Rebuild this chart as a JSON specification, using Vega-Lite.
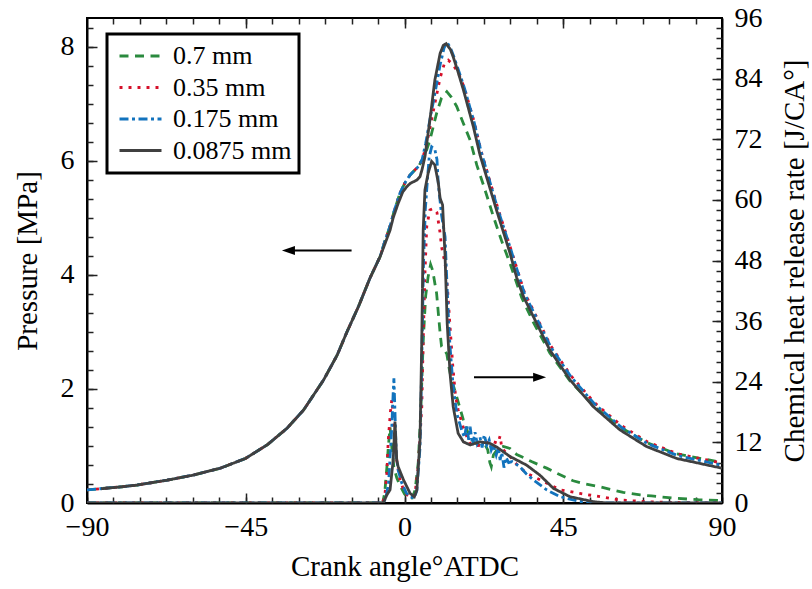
{
  "$schema": "https://vega.github.io/schema/vega-lite/v6.json",
  "width": 635,
  "height": 485,
  "autosize": {"type": "none"},
  "padding": {"left": 87, "top": 18, "right": 90, "bottom": 86},
  "background": "white",
  "config": {
    "view": {"stroke": "black", "strokeWidth": 2},
    "font": "Liberation Serif",
    "axis": {
      "labelFont": "Liberation Serif", "titleFont": "Liberation Serif",
      "labelFontSize": 28, "titleFontSize": 29, "titleFontWeight": "normal",
      "labelColor": "black", "titleColor": "black",
      "domainColor": "black", "domainWidth": 2,
      "tickColor": "#222222", "tickWidth": 1.5, "grid": false, "labelFlush": false
    },
    "legend": {
      "labelFont": "Liberation Serif", "labelColor": "black",
      "strokeColor": "black", "strokeWidth": 3, "fillColor": "white", "labelLimit": 400
    }
  },
  "datasets": {
    "arrows": [
      {"dir": "left", "x1": -32.9, "x2": -15.0, "y": 4.425},
      {"dir": "right", "x1": 38.3, "x2": 19.7, "y": 2.203}
    ],
    "curves": [
      {"kind":"P","series":"0.7 mm","angle":-90,"value":0.23},
      {"kind":"P","series":"0.7 mm","angle":-80,"value":0.285},
      {"kind":"P","series":"0.7 mm","angle":-75.8,"value":0.315},
      {"kind":"P","series":"0.7 mm","angle":-67.3,"value":0.40},
      {"kind":"P","series":"0.7 mm","angle":-59.8,"value":0.49},
      {"kind":"P","series":"0.7 mm","angle":-52.2,"value":0.61},
      {"kind":"P","series":"0.7 mm","angle":-45.1,"value":0.78},
      {"kind":"P","series":"0.7 mm","angle":-38.9,"value":1.02},
      {"kind":"P","series":"0.7 mm","angle":-33.3,"value":1.31},
      {"kind":"P","series":"0.7 mm","angle":-28.6,"value":1.63},
      {"kind":"P","series":"0.7 mm","angle":-22.9,"value":2.16},
      {"kind":"P","series":"0.7 mm","angle":-19.1,"value":2.59},
      {"kind":"P","series":"0.7 mm","angle":-16.3,"value":3.0},
      {"kind":"P","series":"0.7 mm","angle":-13,"value":3.45},
      {"kind":"P","series":"0.7 mm","angle":-9.8,"value":3.94},
      {"kind":"P","series":"0.7 mm","angle":-6.9,"value":4.32},
      {"kind":"P","series":"0.7 mm","angle":-5.5,"value":4.6},
      {"kind":"P","series":"0.7 mm","angle":-4.1,"value":4.85},
      {"kind":"P","series":"0.7 mm","angle":-3.0,"value":5.1},
      {"kind":"P","series":"0.7 mm","angle":-1.3,"value":5.43},
      {"kind":"P","series":"0.7 mm","angle":0.2,"value":5.62},
      {"kind":"P","series":"0.7 mm","angle":1.6,"value":5.75},
      {"kind":"P","series":"0.7 mm","angle":3.0,"value":5.84},
      {"kind":"P","series":"0.7 mm","angle":3.9,"value":5.89},
      {"kind":"P","series":"0.7 mm","angle":4.9,"value":6.0},
      {"kind":"P","series":"0.7 mm","angle":5.8,"value":6.1},
      {"kind":"P","series":"0.7 mm","angle":7.2,"value":6.36},
      {"kind":"P","series":"0.7 mm","angle":9.1,"value":6.83},
      {"kind":"P","series":"0.7 mm","angle":10.5,"value":7.1},
      {"kind":"P","series":"0.7 mm","angle":12.0,"value":7.21},
      {"kind":"P","series":"0.7 mm","angle":13.2,"value":7.12},
      {"kind":"P","series":"0.7 mm","angle":14.8,"value":6.95},
      {"kind":"P","series":"0.7 mm","angle":16.7,"value":6.65},
      {"kind":"P","series":"0.7 mm","angle":18.6,"value":6.36},
      {"kind":"P","series":"0.7 mm","angle":20.5,"value":5.92},
      {"kind":"P","series":"0.7 mm","angle":22.5,"value":5.55},
      {"kind":"P","series":"0.7 mm","angle":25.2,"value":5.02},
      {"kind":"P","series":"0.7 mm","angle":27.5,"value":4.6},
      {"kind":"P","series":"0.7 mm","angle":29.9,"value":4.2},
      {"kind":"P","series":"0.7 mm","angle":33.2,"value":3.6},
      {"kind":"P","series":"0.7 mm","angle":36.5,"value":3.17},
      {"kind":"P","series":"0.7 mm","angle":41.2,"value":2.63},
      {"kind":"P","series":"0.7 mm","angle":46.9,"value":2.14},
      {"kind":"P","series":"0.7 mm","angle":53.5,"value":1.71},
      {"kind":"P","series":"0.7 mm","angle":61.1,"value":1.33},
      {"kind":"P","series":"0.7 mm","angle":68.6,"value":1.06},
      {"kind":"P","series":"0.7 mm","angle":77.2,"value":0.86},
      {"kind":"P","series":"0.7 mm","angle":90,"value":0.71},

      {"kind":"P","series":"0.35 mm","angle":-90,"value":0.23},
      {"kind":"P","series":"0.35 mm","angle":-80,"value":0.285},
      {"kind":"P","series":"0.35 mm","angle":-75.8,"value":0.315},
      {"kind":"P","series":"0.35 mm","angle":-67.3,"value":0.40},
      {"kind":"P","series":"0.35 mm","angle":-59.8,"value":0.49},
      {"kind":"P","series":"0.35 mm","angle":-52.2,"value":0.61},
      {"kind":"P","series":"0.35 mm","angle":-45.1,"value":0.78},
      {"kind":"P","series":"0.35 mm","angle":-38.9,"value":1.02},
      {"kind":"P","series":"0.35 mm","angle":-33.3,"value":1.31},
      {"kind":"P","series":"0.35 mm","angle":-28.6,"value":1.63},
      {"kind":"P","series":"0.35 mm","angle":-22.9,"value":2.16},
      {"kind":"P","series":"0.35 mm","angle":-19.1,"value":2.59},
      {"kind":"P","series":"0.35 mm","angle":-16.3,"value":3.0},
      {"kind":"P","series":"0.35 mm","angle":-13,"value":3.45},
      {"kind":"P","series":"0.35 mm","angle":-9.8,"value":3.94},
      {"kind":"P","series":"0.35 mm","angle":-6.9,"value":4.32},
      {"kind":"P","series":"0.35 mm","angle":-5.5,"value":4.6},
      {"kind":"P","series":"0.35 mm","angle":-4.1,"value":4.85},
      {"kind":"P","series":"0.35 mm","angle":-3.0,"value":5.1},
      {"kind":"P","series":"0.35 mm","angle":-1.3,"value":5.43},
      {"kind":"P","series":"0.35 mm","angle":0.2,"value":5.62},
      {"kind":"P","series":"0.35 mm","angle":1.6,"value":5.75},
      {"kind":"P","series":"0.35 mm","angle":3.0,"value":5.84},
      {"kind":"P","series":"0.35 mm","angle":4.0,"value":5.9},
      {"kind":"P","series":"0.35 mm","angle":5.0,"value":6.02},
      {"kind":"P","series":"0.35 mm","angle":6.0,"value":6.22},
      {"kind":"P","series":"0.35 mm","angle":6.7,"value":6.42},
      {"kind":"P","series":"0.35 mm","angle":8.6,"value":7.0},
      {"kind":"P","series":"0.35 mm","angle":10.1,"value":7.45},
      {"kind":"P","series":"0.35 mm","angle":11.3,"value":7.7},
      {"kind":"P","series":"0.35 mm","angle":12.4,"value":7.76},
      {"kind":"P","series":"0.35 mm","angle":13.5,"value":7.7},
      {"kind":"P","series":"0.35 mm","angle":15.2,"value":7.55},
      {"kind":"P","series":"0.35 mm","angle":17.0,"value":7.27},
      {"kind":"P","series":"0.35 mm","angle":19.8,"value":6.67},
      {"kind":"P","series":"0.35 mm","angle":21.7,"value":6.17},
      {"kind":"P","series":"0.35 mm","angle":26.4,"value":5.18},
      {"kind":"P","series":"0.35 mm","angle":30.2,"value":4.44},
      {"kind":"P","series":"0.35 mm","angle":34.0,"value":3.69},
      {"kind":"P","series":"0.35 mm","angle":36.8,"value":3.34},
      {"kind":"P","series":"0.35 mm","angle":41.5,"value":2.75},
      {"kind":"P","series":"0.35 mm","angle":47.2,"value":2.23},
      {"kind":"P","series":"0.35 mm","angle":53.8,"value":1.76},
      {"kind":"P","series":"0.35 mm","angle":61.4,"value":1.36},
      {"kind":"P","series":"0.35 mm","angle":68.9,"value":1.07},
      {"kind":"P","series":"0.35 mm","angle":77.5,"value":0.86},
      {"kind":"P","series":"0.35 mm","angle":90,"value":0.70},

      {"kind":"P","series":"0.175 mm","angle":-90,"value":0.23},
      {"kind":"P","series":"0.175 mm","angle":-80,"value":0.285},
      {"kind":"P","series":"0.175 mm","angle":-75.8,"value":0.315},
      {"kind":"P","series":"0.175 mm","angle":-67.3,"value":0.40},
      {"kind":"P","series":"0.175 mm","angle":-59.8,"value":0.49},
      {"kind":"P","series":"0.175 mm","angle":-52.2,"value":0.61},
      {"kind":"P","series":"0.175 mm","angle":-45.1,"value":0.78},
      {"kind":"P","series":"0.175 mm","angle":-38.9,"value":1.02},
      {"kind":"P","series":"0.175 mm","angle":-33.3,"value":1.31},
      {"kind":"P","series":"0.175 mm","angle":-28.6,"value":1.63},
      {"kind":"P","series":"0.175 mm","angle":-22.9,"value":2.16},
      {"kind":"P","series":"0.175 mm","angle":-19.1,"value":2.59},
      {"kind":"P","series":"0.175 mm","angle":-16.3,"value":3.0},
      {"kind":"P","series":"0.175 mm","angle":-13,"value":3.45},
      {"kind":"P","series":"0.175 mm","angle":-9.8,"value":3.94},
      {"kind":"P","series":"0.175 mm","angle":-6.9,"value":4.32},
      {"kind":"P","series":"0.175 mm","angle":-5.5,"value":4.6},
      {"kind":"P","series":"0.175 mm","angle":-4.1,"value":4.85},
      {"kind":"P","series":"0.175 mm","angle":-3.0,"value":5.1},
      {"kind":"P","series":"0.175 mm","angle":-1.3,"value":5.43},
      {"kind":"P","series":"0.175 mm","angle":0.2,"value":5.62},
      {"kind":"P","series":"0.175 mm","angle":1.6,"value":5.75},
      {"kind":"P","series":"0.175 mm","angle":3.0,"value":5.84},
      {"kind":"P","series":"0.175 mm","angle":4.0,"value":5.9},
      {"kind":"P","series":"0.175 mm","angle":5.0,"value":6.02},
      {"kind":"P","series":"0.175 mm","angle":6.0,"value":6.3},
      {"kind":"P","series":"0.175 mm","angle":7.2,"value":6.72},
      {"kind":"P","series":"0.175 mm","angle":8.6,"value":7.17},
      {"kind":"P","series":"0.175 mm","angle":10.1,"value":7.68},
      {"kind":"P","series":"0.175 mm","angle":11.2,"value":7.97},
      {"kind":"P","series":"0.175 mm","angle":12.0,"value":8.08},
      {"kind":"P","series":"0.175 mm","angle":13.0,"value":7.98},
      {"kind":"P","series":"0.175 mm","angle":14.0,"value":7.82},
      {"kind":"P","series":"0.175 mm","angle":15.5,"value":7.55},
      {"kind":"P","series":"0.175 mm","angle":17.0,"value":7.27},
      {"kind":"P","series":"0.175 mm","angle":19.8,"value":6.66},
      {"kind":"P","series":"0.175 mm","angle":21.7,"value":6.16},
      {"kind":"P","series":"0.175 mm","angle":26.4,"value":5.16},
      {"kind":"P","series":"0.175 mm","angle":30.2,"value":4.43},
      {"kind":"P","series":"0.175 mm","angle":34.0,"value":3.67},
      {"kind":"P","series":"0.175 mm","angle":36.8,"value":3.32},
      {"kind":"P","series":"0.175 mm","angle":41.5,"value":2.73},
      {"kind":"P","series":"0.175 mm","angle":47.2,"value":2.21},
      {"kind":"P","series":"0.175 mm","angle":53.8,"value":1.74},
      {"kind":"P","series":"0.175 mm","angle":61.4,"value":1.33},
      {"kind":"P","series":"0.175 mm","angle":68.9,"value":1.04},
      {"kind":"P","series":"0.175 mm","angle":77.5,"value":0.83},
      {"kind":"P","series":"0.175 mm","angle":90,"value":0.66},

      {"kind":"P","series":"0.0875 mm","angle":-86,"value":0.25},
      {"kind":"P","series":"0.0875 mm","angle":-80,"value":0.285},
      {"kind":"P","series":"0.0875 mm","angle":-75.8,"value":0.315},
      {"kind":"P","series":"0.0875 mm","angle":-67.3,"value":0.40},
      {"kind":"P","series":"0.0875 mm","angle":-59.8,"value":0.49},
      {"kind":"P","series":"0.0875 mm","angle":-52.2,"value":0.61},
      {"kind":"P","series":"0.0875 mm","angle":-45.1,"value":0.78},
      {"kind":"P","series":"0.0875 mm","angle":-38.9,"value":1.02},
      {"kind":"P","series":"0.0875 mm","angle":-33.3,"value":1.31},
      {"kind":"P","series":"0.0875 mm","angle":-28.6,"value":1.63},
      {"kind":"P","series":"0.0875 mm","angle":-22.9,"value":2.16},
      {"kind":"P","series":"0.0875 mm","angle":-19.1,"value":2.59},
      {"kind":"P","series":"0.0875 mm","angle":-16.3,"value":3.0},
      {"kind":"P","series":"0.0875 mm","angle":-13,"value":3.45},
      {"kind":"P","series":"0.0875 mm","angle":-9.8,"value":3.94},
      {"kind":"P","series":"0.0875 mm","angle":-6.9,"value":4.32},
      {"kind":"P","series":"0.0875 mm","angle":-5.5,"value":4.55},
      {"kind":"P","series":"0.0875 mm","angle":-4.1,"value":4.78},
      {"kind":"P","series":"0.0875 mm","angle":-3.2,"value":5.0},
      {"kind":"P","series":"0.0875 mm","angle":-1.8,"value":5.25},
      {"kind":"P","series":"0.0875 mm","angle":-0.5,"value":5.45},
      {"kind":"P","series":"0.0875 mm","angle":0.6,"value":5.54},
      {"kind":"P","series":"0.0875 mm","angle":1.6,"value":5.6},
      {"kind":"P","series":"0.0875 mm","angle":3.5,"value":5.66},
      {"kind":"P","series":"0.0875 mm","angle":4.4,"value":5.72},
      {"kind":"P","series":"0.0875 mm","angle":5.0,"value":5.85},
      {"kind":"P","series":"0.0875 mm","angle":5.8,"value":6.07},
      {"kind":"P","series":"0.0875 mm","angle":7.2,"value":6.71},
      {"kind":"P","series":"0.0875 mm","angle":8.6,"value":7.41},
      {"kind":"P","series":"0.0875 mm","angle":10.1,"value":7.88},
      {"kind":"P","series":"0.0875 mm","angle":11.0,"value":8.02},
      {"kind":"P","series":"0.0875 mm","angle":11.8,"value":8.05},
      {"kind":"P","series":"0.0875 mm","angle":13.0,"value":7.95},
      {"kind":"P","series":"0.0875 mm","angle":13.8,"value":7.82},
      {"kind":"P","series":"0.0875 mm","angle":15.2,"value":7.55},
      {"kind":"P","series":"0.0875 mm","angle":16.7,"value":7.24},
      {"kind":"P","series":"0.0875 mm","angle":19.5,"value":6.6},
      {"kind":"P","series":"0.0875 mm","angle":21.4,"value":6.1},
      {"kind":"P","series":"0.0875 mm","angle":26.1,"value":5.13},
      {"kind":"P","series":"0.0875 mm","angle":29.9,"value":4.38},
      {"kind":"P","series":"0.0875 mm","angle":31.8,"value":3.95},
      {"kind":"P","series":"0.0875 mm","angle":33.7,"value":3.62},
      {"kind":"P","series":"0.0875 mm","angle":36.5,"value":3.27},
      {"kind":"P","series":"0.0875 mm","angle":41.2,"value":2.68},
      {"kind":"P","series":"0.0875 mm","angle":46.9,"value":2.16},
      {"kind":"P","series":"0.0875 mm","angle":53.5,"value":1.69},
      {"kind":"P","series":"0.0875 mm","angle":61.1,"value":1.28},
      {"kind":"P","series":"0.0875 mm","angle":68.6,"value":0.99},
      {"kind":"P","series":"0.0875 mm","angle":77.2,"value":0.78},
      {"kind":"P","series":"0.0875 mm","angle":90,"value":0.61},

      {"kind":"H","series":"0.7 mm","angle":-90,"value":0},
      {"kind":"H","series":"0.7 mm","angle":-6.2,"value":0},
      {"kind":"H","series":"0.7 mm","angle":-5.6,"value":2},
      {"kind":"H","series":"0.7 mm","angle":-5.0,"value":7},
      {"kind":"H","series":"0.7 mm","angle":-4.6,"value":11},
      {"kind":"H","series":"0.7 mm","angle":-4.1,"value":15},
      {"kind":"H","series":"0.7 mm","angle":-3.6,"value":11},
      {"kind":"H","series":"0.7 mm","angle":-3.0,"value":7},
      {"kind":"H","series":"0.7 mm","angle":-2.2,"value":5},
      {"kind":"H","series":"0.7 mm","angle":-1.3,"value":3.5},
      {"kind":"H","series":"0.7 mm","angle":0,"value":1.8},
      {"kind":"H","series":"0.7 mm","angle":1.2,"value":0.9},
      {"kind":"H","series":"0.7 mm","angle":2.2,"value":1.0},
      {"kind":"H","series":"0.7 mm","angle":3.0,"value":2.5},
      {"kind":"H","series":"0.7 mm","angle":3.9,"value":8},
      {"kind":"H","series":"0.7 mm","angle":4.6,"value":18},
      {"kind":"H","series":"0.7 mm","angle":5.3,"value":32},
      {"kind":"H","series":"0.7 mm","angle":6.0,"value":41},
      {"kind":"H","series":"0.7 mm","angle":6.7,"value":44.8},
      {"kind":"H","series":"0.7 mm","angle":7.4,"value":47.2},
      {"kind":"H","series":"0.7 mm","angle":8.0,"value":46},
      {"kind":"H","series":"0.7 mm","angle":8.6,"value":43.5},
      {"kind":"H","series":"0.7 mm","angle":9.1,"value":41.5},
      {"kind":"H","series":"0.7 mm","angle":9.6,"value":37.5},
      {"kind":"H","series":"0.7 mm","angle":10.1,"value":33.6},
      {"kind":"H","series":"0.7 mm","angle":10.5,"value":31},
      {"kind":"H","series":"0.7 mm","angle":11.2,"value":30.5},
      {"kind":"H","series":"0.7 mm","angle":12.0,"value":29.5},
      {"kind":"H","series":"0.7 mm","angle":12.7,"value":26.5},
      {"kind":"H","series":"0.7 mm","angle":13.4,"value":24.3},
      {"kind":"H","series":"0.7 mm","angle":14.8,"value":21},
      {"kind":"H","series":"0.7 mm","angle":16.7,"value":16.4},
      {"kind":"H","series":"0.7 mm","angle":18.1,"value":13.7},
      {"kind":"H","series":"0.7 mm","angle":19.5,"value":12.1},
      {"kind":"H","series":"0.7 mm","angle":21.4,"value":11.4},
      {"kind":"H","series":"0.7 mm","angle":22.8,"value":11.6},
      {"kind":"H","series":"0.7 mm","angle":23.6,"value":10.5},
      {"kind":"H","series":"0.7 mm","angle":24.2,"value":8},
      {"kind":"H","series":"0.7 mm","angle":24.6,"value":7.2},
      {"kind":"H","series":"0.7 mm","angle":25.2,"value":9.5},
      {"kind":"H","series":"0.7 mm","angle":26.5,"value":10.8},
      {"kind":"H","series":"0.7 mm","angle":28.0,"value":11.2},
      {"kind":"H","series":"0.7 mm","angle":29.9,"value":10.8},
      {"kind":"H","series":"0.7 mm","angle":31.8,"value":9.6},
      {"kind":"H","series":"0.7 mm","angle":33.7,"value":9.0},
      {"kind":"H","series":"0.7 mm","angle":36.0,"value":8.2},
      {"kind":"H","series":"0.7 mm","angle":40.3,"value":6.9},
      {"kind":"H","series":"0.7 mm","angle":43.5,"value":5.8},
      {"kind":"H","series":"0.7 mm","angle":47.8,"value":4.4},
      {"kind":"H","series":"0.7 mm","angle":51.0,"value":3.8},
      {"kind":"H","series":"0.7 mm","angle":55.4,"value":3.2},
      {"kind":"H","series":"0.7 mm","angle":62.0,"value":2.1},
      {"kind":"H","series":"0.7 mm","angle":66.8,"value":1.6},
      {"kind":"H","series":"0.7 mm","angle":70.0,"value":1.4},
      {"kind":"H","series":"0.7 mm","angle":76.5,"value":0.95},
      {"kind":"H","series":"0.7 mm","angle":83.3,"value":0.65},
      {"kind":"H","series":"0.7 mm","angle":90,"value":0.5},

      {"kind":"H","series":"0.35 mm","angle":-90,"value":0},
      {"kind":"H","series":"0.35 mm","angle":-6.2,"value":0},
      {"kind":"H","series":"0.35 mm","angle":-5.5,"value":2},
      {"kind":"H","series":"0.35 mm","angle":-5.0,"value":5.9},
      {"kind":"H","series":"0.35 mm","angle":-4.6,"value":12.5},
      {"kind":"H","series":"0.35 mm","angle":-4.0,"value":18},
      {"kind":"H","series":"0.35 mm","angle":-3.6,"value":20.4},
      {"kind":"H","series":"0.35 mm","angle":-3.2,"value":17},
      {"kind":"H","series":"0.35 mm","angle":-2.7,"value":12},
      {"kind":"H","series":"0.35 mm","angle":-2.2,"value":8.5},
      {"kind":"H","series":"0.35 mm","angle":-1.3,"value":4.6},
      {"kind":"H","series":"0.35 mm","angle":0.1,"value":1.9},
      {"kind":"H","series":"0.35 mm","angle":1.6,"value":1.2},
      {"kind":"H","series":"0.35 mm","angle":2.5,"value":1.0},
      {"kind":"H","series":"0.35 mm","angle":3.0,"value":2},
      {"kind":"H","series":"0.35 mm","angle":3.9,"value":7.2},
      {"kind":"H","series":"0.35 mm","angle":4.9,"value":19},
      {"kind":"H","series":"0.35 mm","angle":5.3,"value":32},
      {"kind":"H","series":"0.35 mm","angle":5.8,"value":45.5},
      {"kind":"H","series":"0.35 mm","angle":6.3,"value":54.7},
      {"kind":"H","series":"0.35 mm","angle":7.2,"value":58},
      {"kind":"H","series":"0.35 mm","angle":8.2,"value":58.3},
      {"kind":"H","series":"0.35 mm","angle":9.2,"value":57.5},
      {"kind":"H","series":"0.35 mm","angle":10.1,"value":53.4},
      {"kind":"H","series":"0.35 mm","angle":10.5,"value":50.7},
      {"kind":"H","series":"0.35 mm","angle":11.5,"value":47.4},
      {"kind":"H","series":"0.35 mm","angle":12.2,"value":42.5},
      {"kind":"H","series":"0.35 mm","angle":12.9,"value":35},
      {"kind":"H","series":"0.35 mm","angle":13.7,"value":27},
      {"kind":"H","series":"0.35 mm","angle":14.5,"value":21},
      {"kind":"H","series":"0.35 mm","angle":15.2,"value":18.5},
      {"kind":"H","series":"0.35 mm","angle":16.2,"value":16},
      {"kind":"H","series":"0.35 mm","angle":17.1,"value":14},
      {"kind":"H","series":"0.35 mm","angle":18.6,"value":11.8},
      {"kind":"H","series":"0.35 mm","angle":19.5,"value":11.3},
      {"kind":"H","series":"0.35 mm","angle":21.4,"value":11.4},
      {"kind":"H","series":"0.35 mm","angle":23.0,"value":11.8},
      {"kind":"H","series":"0.35 mm","angle":24.5,"value":12.3},
      {"kind":"H","series":"0.35 mm","angle":26.5,"value":11.8},
      {"kind":"H","series":"0.35 mm","angle":27.1,"value":13.3},
      {"kind":"H","series":"0.35 mm","angle":27.6,"value":10.8},
      {"kind":"H","series":"0.35 mm","angle":29.9,"value":9.2},
      {"kind":"H","series":"0.35 mm","angle":32.0,"value":7.5},
      {"kind":"H","series":"0.35 mm","angle":34.6,"value":5.9},
      {"kind":"H","series":"0.35 mm","angle":38.4,"value":4.6},
      {"kind":"H","series":"0.35 mm","angle":44.1,"value":2.6},
      {"kind":"H","series":"0.35 mm","angle":49.7,"value":1.9},
      {"kind":"H","series":"0.35 mm","angle":55.4,"value":1.25},
      {"kind":"H","series":"0.35 mm","angle":61.1,"value":0.6},
      {"kind":"H","series":"0.35 mm","angle":68.6,"value":0.26},
      {"kind":"H","series":"0.35 mm","angle":77.0,"value":0.1},
      {"kind":"H","series":"0.35 mm","angle":90,"value":0},

      {"kind":"H","series":"0.175 mm","angle":-90,"value":0},
      {"kind":"H","series":"0.175 mm","angle":-6.0,"value":0},
      {"kind":"H","series":"0.175 mm","angle":-5.3,"value":1},
      {"kind":"H","series":"0.175 mm","angle":-4.5,"value":4},
      {"kind":"H","series":"0.175 mm","angle":-3.6,"value":15},
      {"kind":"H","series":"0.175 mm","angle":-3.2,"value":22},
      {"kind":"H","series":"0.175 mm","angle":-3.0,"value":24.7},
      {"kind":"H","series":"0.175 mm","angle":-2.7,"value":18},
      {"kind":"H","series":"0.175 mm","angle":-2.3,"value":9},
      {"kind":"H","series":"0.175 mm","angle":-1.8,"value":6.5},
      {"kind":"H","series":"0.175 mm","angle":-0.8,"value":4},
      {"kind":"H","series":"0.175 mm","angle":0.5,"value":2},
      {"kind":"H","series":"0.175 mm","angle":1.6,"value":1.2},
      {"kind":"H","series":"0.175 mm","angle":2.8,"value":1.0},
      {"kind":"H","series":"0.175 mm","angle":3.5,"value":2.5},
      {"kind":"H","series":"0.175 mm","angle":4.4,"value":11},
      {"kind":"H","series":"0.175 mm","angle":4.9,"value":28},
      {"kind":"H","series":"0.175 mm","angle":5.4,"value":48},
      {"kind":"H","series":"0.175 mm","angle":5.9,"value":58},
      {"kind":"H","series":"0.175 mm","angle":6.5,"value":64},
      {"kind":"H","series":"0.175 mm","angle":7.0,"value":68.5},
      {"kind":"H","series":"0.175 mm","angle":7.7,"value":70.5},
      {"kind":"H","series":"0.175 mm","angle":8.6,"value":70},
      {"kind":"H","series":"0.175 mm","angle":9.2,"value":68},
      {"kind":"H","series":"0.175 mm","angle":9.6,"value":63},
      {"kind":"H","series":"0.175 mm","angle":10.5,"value":57},
      {"kind":"H","series":"0.175 mm","angle":11.5,"value":52.7},
      {"kind":"H","series":"0.175 mm","angle":12.0,"value":44},
      {"kind":"H","series":"0.175 mm","angle":12.4,"value":37.5},
      {"kind":"H","series":"0.175 mm","angle":12.9,"value":31},
      {"kind":"H","series":"0.175 mm","angle":13.8,"value":23},
      {"kind":"H","series":"0.175 mm","angle":14.8,"value":17.8},
      {"kind":"H","series":"0.175 mm","angle":16.2,"value":14.4},
      {"kind":"H","series":"0.175 mm","angle":17.0,"value":13},
      {"kind":"H","series":"0.175 mm","angle":17.6,"value":15.5},
      {"kind":"H","series":"0.175 mm","angle":18.2,"value":12.5},
      {"kind":"H","series":"0.175 mm","angle":18.6,"value":15.1},
      {"kind":"H","series":"0.175 mm","angle":19.3,"value":11.5},
      {"kind":"H","series":"0.175 mm","angle":20.0,"value":14},
      {"kind":"H","series":"0.175 mm","angle":20.6,"value":11.8},
      {"kind":"H","series":"0.175 mm","angle":21.4,"value":13},
      {"kind":"H","series":"0.175 mm","angle":22.0,"value":11},
      {"kind":"H","series":"0.175 mm","angle":22.6,"value":13.5},
      {"kind":"H","series":"0.175 mm","angle":23.3,"value":11.5},
      {"kind":"H","series":"0.175 mm","angle":24.0,"value":12.5},
      {"kind":"H","series":"0.175 mm","angle":24.6,"value":10.5},
      {"kind":"H","series":"0.175 mm","angle":25.2,"value":11.5},
      {"kind":"H","series":"0.175 mm","angle":26.0,"value":9.5},
      {"kind":"H","series":"0.175 mm","angle":26.6,"value":11},
      {"kind":"H","series":"0.175 mm","angle":27.1,"value":8.5},
      {"kind":"H","series":"0.175 mm","angle":27.6,"value":10},
      {"kind":"H","series":"0.175 mm","angle":28.2,"value":7.0},
      {"kind":"H","series":"0.175 mm","angle":28.8,"value":9},
      {"kind":"H","series":"0.175 mm","angle":29.5,"value":8},
      {"kind":"H","series":"0.175 mm","angle":30.5,"value":8.2},
      {"kind":"H","series":"0.175 mm","angle":32.7,"value":7.2},
      {"kind":"H","series":"0.175 mm","angle":34.5,"value":5.8},
      {"kind":"H","series":"0.175 mm","angle":36.5,"value":4.6},
      {"kind":"H","series":"0.175 mm","angle":40.3,"value":2.6},
      {"kind":"H","series":"0.175 mm","angle":44.1,"value":1.25},
      {"kind":"H","series":"0.175 mm","angle":49.7,"value":0.3},
      {"kind":"H","series":"0.175 mm","angle":55.0,"value":0},
      {"kind":"H","series":"0.175 mm","angle":90,"value":0},

      {"kind":"H","series":"0.0875 mm","angle":-90,"value":0},
      {"kind":"H","series":"0.0875 mm","angle":-6.0,"value":0},
      {"kind":"H","series":"0.0875 mm","angle":-5.0,"value":1.6},
      {"kind":"H","series":"0.0875 mm","angle":-4.1,"value":2.6},
      {"kind":"H","series":"0.0875 mm","angle":-3.2,"value":8.5},
      {"kind":"H","series":"0.0875 mm","angle":-2.7,"value":16.1},
      {"kind":"H","series":"0.0875 mm","angle":-2.2,"value":8.5},
      {"kind":"H","series":"0.0875 mm","angle":-1.8,"value":7.2},
      {"kind":"H","series":"0.0875 mm","angle":-0.3,"value":4.6},
      {"kind":"H","series":"0.0875 mm","angle":1.6,"value":1.9},
      {"kind":"H","series":"0.0875 mm","angle":2.8,"value":1.25},
      {"kind":"H","series":"0.0875 mm","angle":3.5,"value":2.6},
      {"kind":"H","series":"0.0875 mm","angle":4.4,"value":12.5},
      {"kind":"H","series":"0.0875 mm","angle":4.9,"value":32.3},
      {"kind":"H","series":"0.0875 mm","angle":5.3,"value":54},
      {"kind":"H","series":"0.0875 mm","angle":5.8,"value":62},
      {"kind":"H","series":"0.0875 mm","angle":6.7,"value":65.3},
      {"kind":"H","series":"0.0875 mm","angle":7.7,"value":67.6},
      {"kind":"H","series":"0.0875 mm","angle":8.6,"value":66.9},
      {"kind":"H","series":"0.0875 mm","angle":9.6,"value":63.3},
      {"kind":"H","series":"0.0875 mm","angle":10.1,"value":60.3},
      {"kind":"H","series":"0.0875 mm","angle":10.8,"value":59},
      {"kind":"H","series":"0.0875 mm","angle":11.5,"value":48.8},
      {"kind":"H","series":"0.0875 mm","angle":12.1,"value":35.6},
      {"kind":"H","series":"0.0875 mm","angle":12.9,"value":25.7},
      {"kind":"H","series":"0.0875 mm","angle":13.8,"value":19.1},
      {"kind":"H","series":"0.0875 mm","angle":15.2,"value":13.8},
      {"kind":"H","series":"0.0875 mm","angle":16.7,"value":12.1},
      {"kind":"H","series":"0.0875 mm","angle":18.6,"value":11.5},
      {"kind":"H","series":"0.0875 mm","angle":21.4,"value":12.1},
      {"kind":"H","series":"0.0875 mm","angle":24.2,"value":11.8},
      {"kind":"H","series":"0.0875 mm","angle":26.1,"value":11.1},
      {"kind":"H","series":"0.0875 mm","angle":29.9,"value":9.2},
      {"kind":"H","series":"0.0875 mm","angle":34.6,"value":7.5},
      {"kind":"H","series":"0.0875 mm","angle":38.4,"value":5.5},
      {"kind":"H","series":"0.0875 mm","angle":42.2,"value":2.9},
      {"kind":"H","series":"0.0875 mm","angle":46.9,"value":1.25},
      {"kind":"H","series":"0.0875 mm","angle":53.5,"value":0.26},
      {"kind":"H","series":"0.0875 mm","angle":57.5,"value":0},
      {"kind":"H","series":"0.0875 mm","angle":90,"value":0}
    ]
  },
  "layer": [
    {
      "data": {"name": "curves"},
      "transform": [{"filter": "datum.kind === 'P'"}],
      "mark": {"type": "line", "strokeWidth": 2.8, "clip": true},
      "encoding": {
        "x": {"field": "angle", "type": "quantitative",
              "scale": {"domain": [-90, 90], "nice": false, "zero": false},
              "axis": {"orient": "bottom", "values": [-90, -45, 0, 45, 90], "ticks": false,
                       "labelPadding": 10, "title": "Crank angle°ATDC", "titlePadding": 11}},
        "y": {"field": "value", "type": "quantitative",
              "scale": {"domain": [0, 8.5], "nice": false, "zero": false},
              "axis": {"orient": "left", "values": [0, 2, 4, 6, 8], "ticks": false,
                       "labelPadding": 13, "title": "Pressure [MPa]", "titlePadding": 18}},
        "color": {"field": "series", "type": "nominal",
                  "scale": {"domain": ["0.7 mm", "0.35 mm", "0.175 mm", "0.0875 mm"],
                            "range": ["#2a8a3e", "#d5102a", "#1273bd", "#404040"]},
                  "legend": {"title": null, "orient": "none", "legendX": 20, "legendY": 16,
                             "symbolType": "stroke", "symbolSize": 1764, "symbolStrokeWidth": 3,
                             "labelFontSize": 26, "padding": 7, "rowPadding": 1.5, "clipHeight": 30,
                             "symbolOffset": 4, "labelOffset": 10}},
        "strokeDash": {"field": "series", "type": "nominal",
                       "scale": {"domain": ["0.7 mm", "0.35 mm", "0.175 mm", "0.0875 mm"],
                                 "range": [[9, 6.5], [3, 6], [9, 3.5, 3, 3.5], [1, 0]]},
                       "legend": {"title": null, "orient": "none", "legendX": 20, "legendY": 16,
                                  "symbolType": "stroke", "symbolSize": 1764, "symbolStrokeWidth": 3,
                                  "labelFontSize": 26, "padding": 7, "rowPadding": 1.5, "clipHeight": 30,
                                  "symbolOffset": 4, "labelOffset": 10}}
      }
    },
    {
      "data": {"name": "curves"},
      "transform": [{"filter": "datum.kind === 'H'"}],
      "mark": {"type": "line", "strokeWidth": 2.8, "clip": true},
      "encoding": {
        "x": {"field": "angle", "type": "quantitative",
              "scale": {"domain": [-90, 90], "nice": false, "zero": false}, "axis": null},
        "y": {"field": "value", "type": "quantitative",
              "scale": {"domain": [0, 96], "nice": false, "zero": false},
              "axis": {"orient": "right", "values": [0, 12, 24, 36, 48, 60, 72, 84, 96], "ticks": false,
                       "labelPadding": 12, "title": "Chemical heat release rate [J/CA°]",
                       "titleAngle": 270, "titleBaseline": "top", "titlePadding": 18}},
        "color": {"field": "series", "type": "nominal",
                  "scale": {"domain": ["0.7 mm", "0.35 mm", "0.175 mm", "0.0875 mm"],
                            "range": ["#2a8a3e", "#d5102a", "#1273bd", "#404040"]},
                  "legend": {"title": null, "orient": "none", "legendX": 20, "legendY": 16,
                             "symbolType": "stroke", "symbolSize": 1764, "symbolStrokeWidth": 3,
                             "labelFontSize": 26, "padding": 7, "rowPadding": 1.5, "clipHeight": 30,
                             "symbolOffset": 4, "labelOffset": 10}},
        "strokeDash": {"field": "series", "type": "nominal",
                       "scale": {"domain": ["0.7 mm", "0.35 mm", "0.175 mm", "0.0875 mm"],
                                 "range": [[9, 6.5], [3, 6], [9, 3.5, 3, 3.5], [1, 0]]},
                       "legend": {"title": null, "orient": "none", "legendX": 20, "legendY": 16,
                                  "symbolType": "stroke", "symbolSize": 1764, "symbolStrokeWidth": 3,
                                  "labelFontSize": 26, "padding": 7, "rowPadding": 1.5, "clipHeight": 30,
                                  "symbolOffset": 4, "labelOffset": 10}}
      }
    },
    {
      "data": {"name": "arrows"},
      "mark": {"type": "rule", "color": "black", "strokeWidth": 2},
      "encoding": {
        "x": {"field": "x1", "type": "quantitative", "scale": {"domain": [-90, 90], "nice": false, "zero": false}, "axis": null},
        "x2": {"field": "x2"},
        "y": {"field": "y", "type": "quantitative", "scale": {"domain": [0, 8.5], "nice": false, "zero": false}, "axis": null}
      }
    },
    {
      "data": {"name": "arrows"},
      "mark": {"type": "point", "filled": true, "color": "black", "opacity": 1, "size": 169, "strokeWidth": 0},
      "encoding": {
        "x": {"field": "x1", "type": "quantitative", "scale": {"domain": [-90, 90], "nice": false, "zero": false}, "axis": null},
        "y": {"field": "y", "type": "quantitative", "scale": {"domain": [0, 8.5], "nice": false, "zero": false}, "axis": null},
        "shape": {"field": "dir", "type": "nominal",
                  "scale": {"domain": ["left", "right"], "range": ["M1,-0.7L-1,0L1,0.7Z", "M-1,-0.7L1,0L-1,0.7Z"]},
                  "legend": null}
      }
    },
    {
      "data": {"name": "arrows"},
      "mark": {"type": "point", "opacity": 0},
      "encoding": {
        "x": {"field": "x1", "type": "quantitative", "scale": {"domain": [-90, 90], "nice": false, "zero": false},
              "axis": {"orient": "bottom", "values": [-90, -82.5, -75, -67.5, -60, -52.5, -45, -37.5, -30, -22.5, -15, -7.5, 0, 7.5, 15, 22.5, 30, 37.5, 45, 52.5, 60, 67.5, 75, 82.5, 90],
                       "labels": false, "domain": false, "tickSize": -6, "title": null}},
        "y": {"field": "y", "type": "quantitative", "scale": {"domain": [0, 8.5], "nice": false, "zero": false},
              "axis": {"orient": "left", "values": [0.3333, 0.6667, 1, 1.3333, 1.6667, 2, 2.3333, 2.6667, 3, 3.3333, 3.6667, 4, 4.3333, 4.6667, 5, 5.3333, 5.6667, 6, 6.3333, 6.6667, 7, 7.3333, 7.6667, 8, 8.3333],
                       "labels": false, "domain": false, "tickSize": -6, "title": null}}
      }
    },
    {
      "data": {"name": "arrows"},
      "mark": {"type": "point", "opacity": 0},
      "encoding": {
        "x": {"field": "x1", "type": "quantitative", "scale": {"domain": [-90, 90], "nice": false, "zero": false},
              "axis": {"orient": "bottom", "values": [-45, 0, 45], "labels": false, "domain": false, "tickSize": -10, "title": null}},
        "y": {"field": "y", "type": "quantitative", "scale": {"domain": [0, 8.5], "nice": false, "zero": false},
              "axis": {"orient": "left", "values": [2, 4, 6, 8], "labels": false, "domain": false, "tickSize": -10, "title": null}}
      }
    },
    {
      "data": {"name": "arrows"},
      "mark": {"type": "point", "opacity": 0},
      "encoding": {
        "x": {"field": "x1", "type": "quantitative", "scale": {"domain": [-90, 90], "nice": false, "zero": false},
              "axis": {"orient": "top", "values": [-82.5, -75, -67.5, -60, -52.5, -45, -37.5, -30, -22.5, -15, -7.5, 0, 7.5, 15, 22.5, 30, 37.5, 45, 52.5, 60, 67.5, 75, 82.5],
                       "labels": false, "domain": false, "tickSize": -6, "title": null}},
        "y": {"field": "y", "type": "quantitative", "scale": {"domain": [0, 96], "nice": false, "zero": false},
              "axis": {"orient": "right", "values": [2, 4, 6, 8, 10, 12, 14, 16, 18, 20, 22, 24, 26, 28, 30, 32, 34, 36, 38, 40, 42, 44, 46, 48, 50, 52, 54, 56, 58, 60, 62, 64, 66, 68, 70, 72, 74, 76, 78, 80, 82, 84, 86, 88, 90, 92, 94],
                       "labels": false, "domain": false, "tickSize": -6, "title": null}}
      }
    },
    {
      "data": {"name": "arrows"},
      "mark": {"type": "point", "opacity": 0},
      "encoding": {
        "x": {"field": "x1", "type": "quantitative", "scale": {"domain": [-90, 90], "nice": false, "zero": false},
              "axis": {"orient": "top", "values": [-45, 0, 45], "labels": false, "domain": false, "tickSize": -10, "title": null}},
        "y": {"field": "y", "type": "quantitative", "scale": {"domain": [0, 96], "nice": false, "zero": false},
              "axis": {"orient": "right", "values": [12, 24, 36, 48, 60, 72, 84], "labels": false, "domain": false, "tickSize": -10, "title": null}}
      }
    }
  ],
  "resolve": {
    "scale": {"y": "independent", "x": "shared"},
    "axis": {"x": "independent", "y": "independent"}
  }
}
